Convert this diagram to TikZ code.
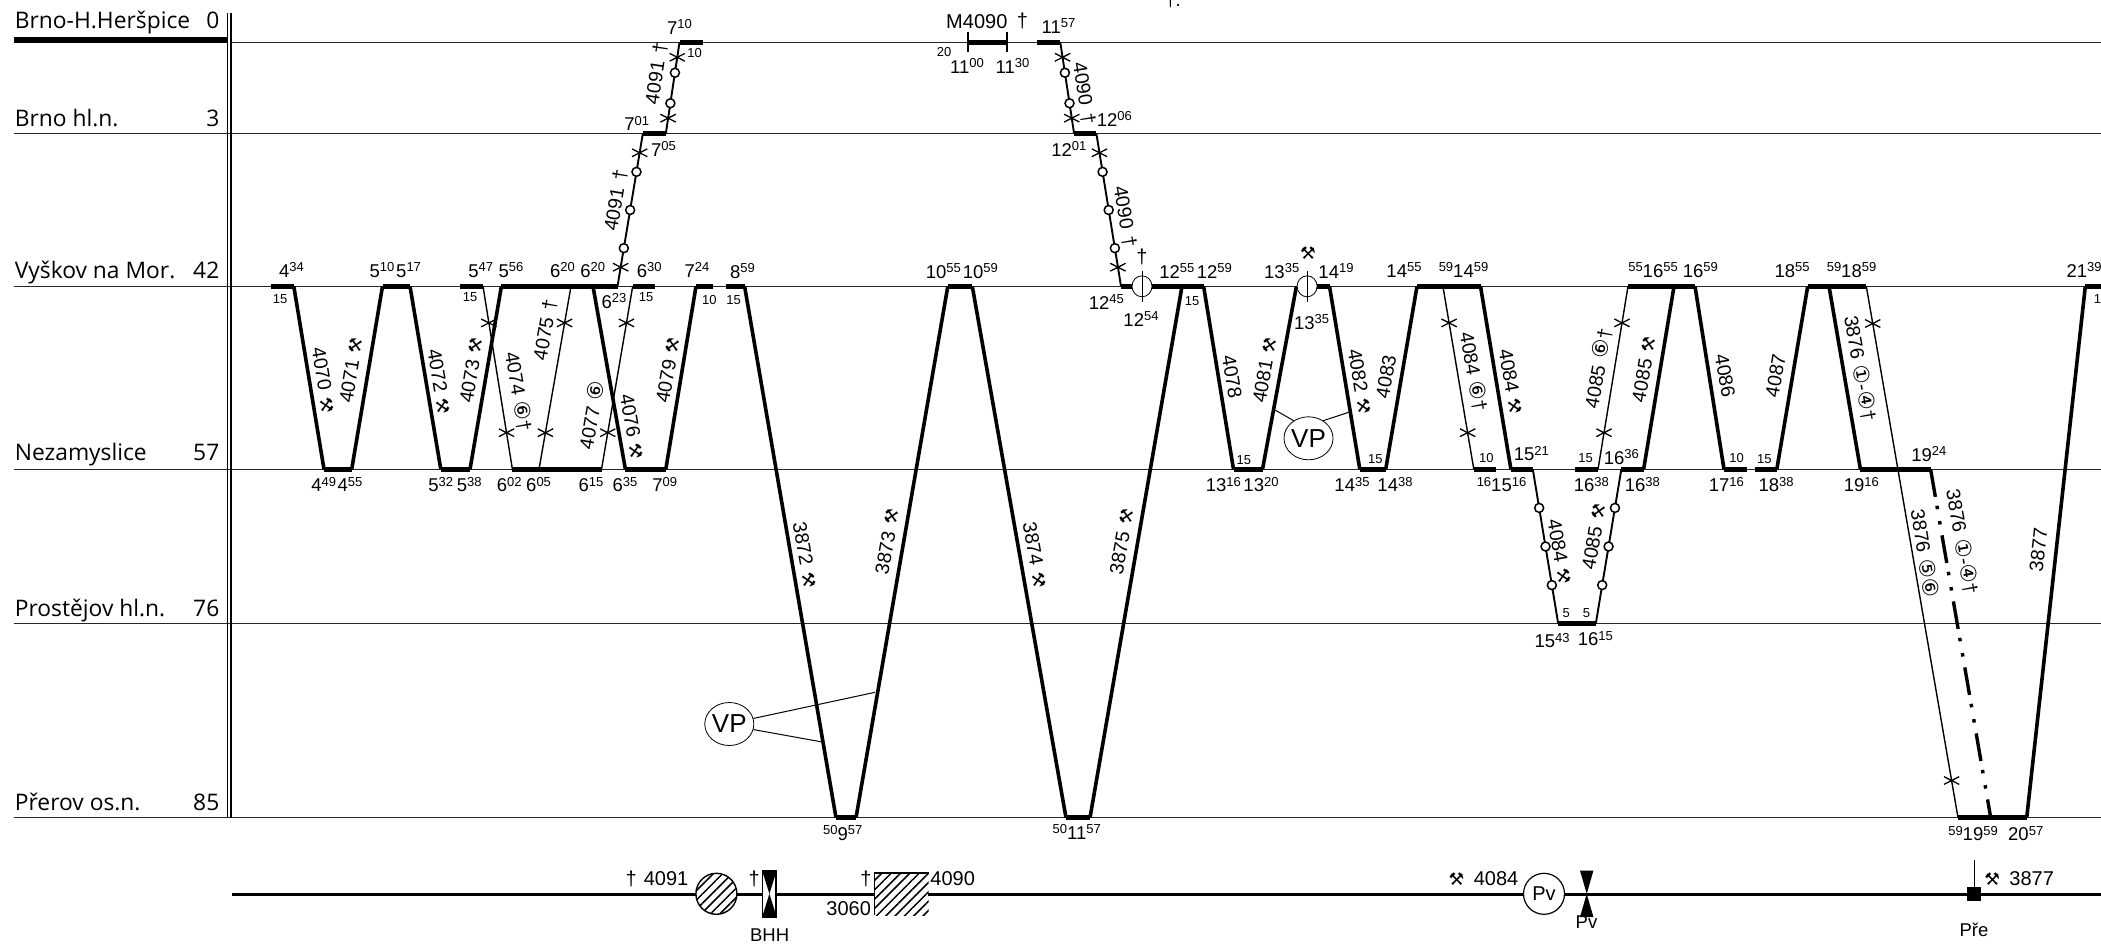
\documentclass[tikz,border=0pt]{standalone}
\usepackage{fontspec}
\setmainfont{Liberation Sans}
\newfontfamily\stfont{Open Sans}
\newfontfamily\symfont{DejaVu Sans}
\usetikzlibrary{shapes.geometric,shapes.misc,patterns.meta}
\newcommand{\hm}[2]{#1\raisebox{5.5pt}{\fontsize{13}{13}\selectfont #2}}
\newcommand{\hmp}[3]{\raisebox{5.5pt}{\fontsize{13}{13}\selectfont #1}#2\raisebox{5.5pt}{\fontsize{13}{13}\selectfont #3}}
\newcommand{\glyf}[1]{{\symfont\fontsize{21.5}{22}\selectfont #1}}
\newcommand{\hamr}{{\symfont\fontsize{17.5}{18}\selectfont ⚒}}
\begin{document}
\begin{tikzpicture}[x=1pt,y=-1pt,
                    row_line/.style={draw=black!85,line width=1.2pt},
                    stop_bar/.style={line width=4.5pt},
                    train_thick/.style={line width=3.6pt},
                    train_mid/.style={line width=1.9pt},
                    train_thin/.style={line width=1.4pt},
                    train_dash/.style={line width=3.4pt,dash pattern=on 28pt off 9pt on 3.5pt off 12pt on 3.5pt off 11pt},
                    st_lab/.style={anchor=base west,inner sep=0pt,font=\stfont\fontsize{22.8}{24}\selectfont},
                    km_lab/.style={anchor=base east,inner sep=0pt,font=\stfont\fontsize{22.8}{24}\selectfont},
                    tl/.style={anchor=base,inner sep=0pt,font=\fontsize{18.5}{20}\selectfont},
                    tb/.style={anchor=base,inner sep=0pt,font=\fontsize{20}{21}\selectfont},
                    sm/.style={inner sep=0pt,font=\fontsize{13}{14}\selectfont},
                    nr/.style={inner sep=0pt,font=\fontsize{19.5}{21}\selectfont},
                    tick_x/.style={cross out,draw,inner sep=0pt,minimum width=14pt,minimum height=6.5pt,line width=1.3pt},
                    stop_o/.style={circle,draw,fill=white,inner sep=0pt,minimum size=9pt,line width=1.5pt},
                    vp_oval/.style={ellipse,draw,inner sep=0pt,minimum width=49pt,minimum height=43pt,line width=.8pt,font=\fontsize{26}{27}\selectfont},
                    kr_oval/.style={ellipse,draw,fill=white,inner sep=0pt,minimum width=20pt,minimum height=21pt,line width=.8pt}]
\useasboundingbox (0,0) rectangle (2101,943);
% rows
\coordinate (r0a) at (231,42.3);   \coordinate (r0b) at (2101,42.3);
\coordinate (r1a) at (14,133.7);   \coordinate (r1b) at (2101,133.7);
\coordinate (r2a) at (14,286.3);   \coordinate (r2b) at (2101,286.3);
\coordinate (r3a) at (14,469.3);   \coordinate (r3b) at (2101,469.3);
\coordinate (r4a) at (14,623.7);   \coordinate (r4b) at (2101,623.7);
\coordinate (r5a) at (14,817.7);   \coordinate (r5b) at (2101,817.7);
\coordinate (h1) at (14,39.7);     \coordinate (h2) at (227,39.7);
\coordinate (d1) at (227.6,12.7);  \coordinate (d2) at (227.6,817.7);
\coordinate (d3) at (231,12.7);    \coordinate (d4) at (231,817.7);
\draw[row_line] (r0a) -- (r0b);
\draw[row_line] (r1a) -- (r1b);
\draw[row_line] (r2a) -- (r2b);
\draw[row_line] (r3a) -- (r3b);
\draw[row_line] (r4a) -- (r4b);
\draw[row_line] (r5a) -- (r5b);
\draw[line width=6pt] (h1) -- (h2);
\draw[line width=1.3pt] (d1) -- (d2);
\draw[line width=1.3pt] (d3) -- (d4);
\node[st_lab] (s0) at (14.7,28.3) {Brno-H.Heršpice};
\node[st_lab] (s1) at (14.7,126) {Brno hl.n.};
\node[st_lab] (s2) at (14.7,278) {Vyškov na Mor.};
\node[st_lab] (s3) at (14.7,460) {Nezamyslice};
\node[st_lab] (s4) at (14.7,616) {Prostějov hl.n.};
\node[st_lab] (s5) at (14.7,810) {Přerov os.n.};
\node[km_lab] (k0) at (219.5,28.3) {0};
\node[km_lab] (k1) at (219.5,126) {3};
\node[km_lab] (k2) at (219.5,278) {42};
\node[km_lab] (k3) at (219.5,460) {57};
\node[km_lab] (k4) at (219.5,616) {76};
\node[km_lab] (k5) at (219.5,810) {85};
% stops, Brno-H.
\coordinate (a1) at (679.5,42.3);  \coordinate (a2) at (702.5,42.3);
\coordinate (a3) at (967.9,42.3);  \coordinate (a4) at (1007.1,42.3);
\coordinate (a5) at (1037,42.3);   \coordinate (a6) at (1060.3,42.3);
% stops, Brno hl.n.
\coordinate (b1) at (642.8,133.7); \coordinate (b2) at (665.8,133.7);
\coordinate (b3) at (1074.1,133.7);\coordinate (b4) at (1096.4,133.7);
% stops, Vyskov
\coordinate (v1) at (270.9,286.3); \coordinate (v2) at (293.8,286.3);
\coordinate (v3) at (382.5,286.3); \coordinate (v4) at (410,286.3);
\coordinate (v5) at (460,286.3);   \coordinate (v6) at (483,286.3);
\coordinate (v7) at (501.4,286.3); \coordinate (v8) at (571,286.3);
\coordinate (v9) at (593,286.3);   \coordinate (v10) at (617.5,286.3);
\coordinate (v11) at (632.7,286.3);\coordinate (v12) at (655,286.3);
\coordinate (v13) at (696,286.3);  \coordinate (v14) at (712.6,286.3);
\coordinate (v15) at (725.9,286.3);\coordinate (v16) at (744.6,286.3);
\coordinate (v17) at (947.8,286.3);\coordinate (v18) at (972.3,286.3);
\coordinate (v19) at (1121,286.3); \coordinate (v20) at (1133,286.3);
\coordinate (v21) at (1151.8,286.3);\coordinate (v22) at (1182,286.3);
\coordinate (v23) at (1203.6,286.3);\coordinate (v24) at (1316,286.3);
\coordinate (v25) at (1329.5,286.3);\coordinate (v26) at (1417,286.3);
\coordinate (v27) at (1442.9,286.3);\coordinate (v28) at (1480.5,286.3);
\coordinate (v29) at (1628,286.3); \coordinate (v30) at (1674,286.3);
\coordinate (v31) at (1695,286.3); \coordinate (v32) at (1807.7,286.3);
\coordinate (v33) at (1829,286.3); \coordinate (v34) at (1866.3,286.3);
\coordinate (v35) at (2085.3,286.3);\coordinate (v36) at (2101,286.3);
\coordinate (v37) at (1296.4,286.3);
% stops, Nezamyslice
\coordinate (n1) at (324,469.3);   \coordinate (n2) at (351.7,469.3);
\coordinate (n3) at (440.8,469.3); \coordinate (n4) at (470,469.3);
\coordinate (n5) at (512.4,469.3); \coordinate (n6) at (539,469.3);
\coordinate (n7) at (601.5,469.3); \coordinate (n8) at (625.4,469.3);
\coordinate (n9) at (665.8,469.3); \coordinate (n10) at (1233.5,469.3);
\coordinate (n11) at (1262.5,469.3);\coordinate (n12) at (1359.8,469.3);
\coordinate (n13) at (1385.7,469.3);\coordinate (n14) at (1473.8,469.3);
\coordinate (n15) at (1496,469.3); \coordinate (n16) at (1510.9,469.3);
\coordinate (n17) at (1532.8,469.3);\coordinate (n18) at (1575.2,469.3);
\coordinate (n19) at (1598,469.3); \coordinate (n20) at (1621.3,469.3);
\coordinate (n21) at (1643.6,469.3);\coordinate (n22) at (1724,469.3);
\coordinate (n23) at (1747.3,469.3);\coordinate (n24) at (1754.5,469.3);
\coordinate (n25) at (1776.8,469.3);\coordinate (n26) at (1860.4,469.3);
\coordinate (n27) at (1930.6,469.3);
% stops, Prostejov and Prerov
\coordinate (p1) at (1558.2,623.7);\coordinate (p2) at (1595.8,623.7);
\coordinate (o1) at (836,817.7);   \coordinate (o2) at (856,817.7);
\coordinate (o3) at (1066,817.7);  \coordinate (o4) at (1090,817.7);
\coordinate (o5) at (1958,817.7);  \coordinate (o6) at (1990.7,817.7);
\coordinate (o7) at (2026.7,817.7);
\draw[stop_bar] (a1) -- (a2);
\draw[stop_bar] (a3) -- (a4);
\draw[stop_bar] (a5) -- (a6);
\draw[stop_bar] (b1) -- (b2);
\draw[stop_bar] (b3) -- (b4);
\draw[stop_bar] (v1) -- (v2);
\draw[stop_bar] (v3) -- (v4);
\draw[stop_bar] (v5) -- (v6);
\draw[stop_bar] (v7) -- (v10);
\draw[stop_bar] (v11) -- (v12);
\draw[stop_bar] (v13) -- (v14);
\draw[stop_bar] (v15) -- (v16);
\draw[stop_bar] (v17) -- (v18);
\draw[stop_bar] (v19) -- (v20);
\draw[stop_bar] (v21) -- (v23);
\draw[stop_bar] (v24) -- (v25);
\draw[stop_bar] (v26) -- (v28);
\draw[stop_bar] (v29) -- (v31);
\draw[stop_bar] (v32) -- (v34);
\draw[stop_bar] (v35) -- (v36);
\draw[stop_bar] (n1) -- (n2);
\draw[stop_bar] (n3) -- (n4);
\draw[stop_bar] (n5) -- (n7);
\draw[stop_bar] (n8) -- (n9);
\draw[stop_bar] (n10) -- (n11);
\draw[stop_bar] (n12) -- (n13);
\draw[stop_bar] (n14) -- (n15);
\draw[stop_bar] (n16) -- (n17);
\draw[stop_bar] (n18) -- (n19);
\draw[stop_bar] (n20) -- (n21);
\draw[stop_bar] (n22) -- (n23);
\draw[stop_bar] (n24) -- (n25);
\draw[stop_bar] (n26) -- (n27);
\draw[stop_bar] (p1) -- (p2);
\draw[stop_bar] (o1) -- (o2);
\draw[stop_bar] (o3) -- (o4);
\draw[stop_bar] (o5) -- (o7);
% trains
\draw[train_thick] (v2) -- (n1);
\draw[train_thick] (n2) -- (v3);
\draw[train_thick] (v4) -- (n3);
\draw[train_thick] (n4) -- (v7);
\draw[train_thin] (v6) -- node[tick_x,pos=.2] (x1) {} node[tick_x,pos=.8] (x2) {} (n5);
\draw[train_thin] (n6) -- node[tick_x,pos=.2] (x3) {} node[tick_x,pos=.8] (x4) {} (v8);
\draw[train_thick] (v9) -- (n8);
\draw[train_thin] (n7) -- node[tick_x,pos=.2] (x5) {} node[tick_x,pos=.8] (x6) {} (v11);
\draw[train_thick] (n9) -- (v13);
\draw[train_thick] (v16) -- (o1);
\draw[train_thick] (o2) -- (v17);
\draw[train_thick] (v18) -- (o3);
\draw[train_thick] (o4) -- (v22);
\draw[train_thick] (v23) -- (n10);
\draw[train_thick] (n11) -- (v37);
\draw[train_thick] (v25) -- (n12);
\draw[train_thick] (n13) -- (v26);
\draw[train_thick] (v28) -- (n16);
\draw[train_thin] (v27) -- node[tick_x,pos=.2] (x7) {} node[tick_x,pos=.8] (x8) {} (n14);
\draw[train_thin] (n19) -- node[tick_x,pos=.2] (x9) {} node[tick_x,pos=.8] (x10) {} (v29);
\draw[train_thick] (n21) -- (v30);
\draw[train_thick] (v31) -- (n22);
\draw[train_thick] (n25) -- (v32);
\draw[train_thick] (v33) -- (n26);
\draw[train_thin] (v34) -- node[tick_x,pos=.07] (x11) {} node[tick_x,pos=.93] (x12) {} (o5);
\draw[train_dash] (n27) -- (o6);
\draw[train_thick] (o7) -- (v35);
\draw[train_mid] (a1) -- node[tick_x,pos=.164] (x13) {} node[stop_o,pos=.333] (c1) {} node[stop_o,pos=.667] (c2) {} node[tick_x,pos=.83] (x14) {} (b2);
\draw[train_mid] (b1) -- node[tick_x,pos=.125] (x15) {} node[stop_o,pos=.25] (c3) {} node[stop_o,pos=.5] (c4) {} node[stop_o,pos=.75] (c5) {} node[tick_x,pos=.875] (x16) {} (v10);
\draw[train_mid] (a6) -- node[tick_x,pos=.164] (x17) {} node[stop_o,pos=.333] (c6) {} node[stop_o,pos=.667] (c7) {} node[tick_x,pos=.83] (x18) {} (b3);
\draw[train_mid] (b4) -- node[tick_x,pos=.125] (x19) {} node[stop_o,pos=.25] (c8) {} node[stop_o,pos=.5] (c9) {} node[stop_o,pos=.75] (c10) {} node[tick_x,pos=.875] (x20) {} (v19);
\draw[train_mid] (n17) -- node[stop_o,pos=.25] (c11) {} node[stop_o,pos=.5] (c12) {} node[stop_o,pos=.75] (c13) {} (p1);
\draw[train_mid] (p2) -- node[stop_o,pos=.25] (c14) {} node[stop_o,pos=.5] (c15) {} node[stop_o,pos=.75] (c16) {} (n20);
% crossing marks at Vyskov
\node[kr_oval] (kr1) at (1142,286.3) {};
\node[kr_oval] (kr2) at (1307.1,286.3) {};
\coordinate (kr1t) at (1142,270.7); \coordinate (kr1b) at (1142,302.3);
\coordinate (kr2t) at (1307.1,270.7); \coordinate (kr2b) at (1307.1,302.3);
\draw[line width=.8pt] (kr1t) -- (kr1b);
\draw[line width=.8pt] (kr2t) -- (kr2b);
% M4090 ticks
\coordinate (m1) at (967.9,32.3); \coordinate (m2) at (967.9,52.3);
\coordinate (m3) at (1007.1,32.3); \coordinate (m4) at (1007.1,52.3);
\draw[train_thin] (m1) -- (m2);
\draw[train_thin] (m3) -- (m4);
% train numbers
\node[nr,rotate=-80.7] (t1) at (323.7,380) {4070\hspace{7pt}\hamr};
\node[nr,rotate=80.5] (t2) at (351.2,370) {4071\hspace{7pt}\hamr};
\node[nr,rotate=-80.5] (t3) at (439.4,381.7) {4072\hspace{7pt}\hamr};
\node[nr,rotate=80.5] (t4) at (471.5,370) {4073\hspace{7pt}\hamr};
\node[nr,rotate=-80.5] (t5) at (518.8,391.7) {4074\hspace{7pt}\glyf{⑥}†};
\node[nr,rotate=80] (t6) at (545.4,330) {4075\hspace{7pt}†};
\node[nr,rotate=80] (t7) at (591,415) {4077\hspace{7pt}\glyf{⑥}};
\node[nr,rotate=-80] (t8) at (632.2,426.7) {4076\hspace{7pt}\hamr};
\node[nr,rotate=80] (t9) at (668,370) {4079\hspace{7pt}\hamr};
\node[nr,rotate=81.5] (t10) at (656.6,73.3) {4091\hspace{8pt}†};
\node[nr,rotate=80.6] (t11) at (616,200) {4091\hspace{8pt}†};
\node[nr,rotate=-81] (t12) at (1084,93.3) {4090\hspace{8pt}†};
\node[nr,rotate=-80.6] (t13) at (1125,216.7) {4090\hspace{8pt}†};
\node[nr,rotate=-80] (t14) at (805,555) {3872\hspace{7pt}\hamr};
\node[nr,rotate=80] (t15) at (887.3,541.7) {3873\hspace{7pt}\hamr};
\node[nr,rotate=-80] (t16) at (1035,555) {3874\hspace{7pt}\hamr};
\node[nr,rotate=80] (t17) at (1121.7,541.7) {3875\hspace{7pt}\hamr};
\node[nr,rotate=-80.5] (t18) at (1232,376.7) {4078};
\node[nr,rotate=80] (t19) at (1264.7,370) {4081\hspace{7pt}\hamr};
\node[nr,rotate=-80.5] (t20) at (1359.8,381.7) {4082\hspace{7pt}\hamr};
\node[nr,rotate=80] (t21) at (1386,376.7) {4083};
\node[nr,rotate=-80] (t22) at (1473.8,371.7) {4084\hspace{7pt}\glyf{⑥}†};
\node[nr,rotate=-80] (t23) at (1510.9,381.7) {4084\hspace{7pt}\hamr};
\node[nr,rotate=80] (t24) at (1598,368.3) {4085\hspace{7pt}\glyf{⑥}†};
\node[nr,rotate=80] (t25) at (1644,369.3) {4085\hspace{7pt}\hamr};
\node[nr,rotate=-80] (t26) at (1725,375.7) {4086};
\node[nr,rotate=80] (t27) at (1775.5,375.7) {4087};
\node[nr,rotate=-80] (t28) at (1860.4,368.3) {3876\hspace{7pt}\glyf{①}-\glyf{④}†};
\node[nr,rotate=-80] (t29) at (1962.4,541.7) {3876\hspace{7pt}\glyf{①}-\glyf{④}†};
\node[nr,rotate=-81] (t30) at (1925.3,553.3) {3876\hspace{7pt}\glyf{⑤}\glyf{⑥}};
\node[nr,rotate=83.7] (t31) at (2038.4,550) {3877};
\node[nr,rotate=-80] (t32) at (1559.6,551.7) {4084\hspace{7pt}\hamr};
\node[nr,rotate=80] (t33) at (1594,536.7) {4085\hspace{7pt}\hamr};
% times, Brno-H. and Brno hl.n.
\node[tl] (u1) at (679.5,34) {\hm{7}{10}};
\node[sm] (u2) at (694.7,53.3) {10};
\node[tl] (u3) at (636.8,130.7) {\hm{7}{01}};
\node[tl] (u4) at (663.5,156) {\hm{7}{05}};
\node[tb] (u5) at (976.8,28.3) {M4090};
\node[tb] (u6) at (1022.3,27) {†};
\node[sm] (u7) at (944.2,52.3) {20};
\node[tl] (u8) at (967,73.3) {\hm{11}{00}};
\node[tl] (u9) at (1012.5,73.3) {\hm{11}{30}};
\node[tl] (u10) at (1058.5,33.3) {\hm{11}{57}};
\node[tl] (u11) at (1114.3,126) {\hm{12}{06}};
\node[tl] (u12) at (1068.8,156) {\hm{12}{01}};
\node[tl] (u13) at (1173,6) {†.};
% times, Vyskov
\node[tl] (w1) at (291.5,277.3) {\hm{4}{34}};
\node[tl] (w2) at (382,277.3) {\hm{5}{10}};
\node[tl] (w3) at (408.6,277.3) {\hm{5}{17}};
\node[tl] (w4) at (480.7,277.3) {\hm{5}{47}};
\node[tl] (w5) at (511,277.3) {\hm{5}{56}};
\node[tl] (w6) at (562.4,277.3) {\hm{6}{20}};
\node[tl] (w7) at (592.7,277.3) {\hm{6}{20}};
\node[tl] (w8) at (649.2,277.3) {\hm{6}{30}};
\node[tl] (w9) at (697,277.3) {\hm{7}{24}};
\node[tl] (w10) at (613.9,308) {\hm{6}{23}};
\node[tl] (w11) at (742.4,278) {\hm{8}{59}};
\node[tl] (w12) at (943.3,278) {\hm{10}{55}};
\node[tl] (w13) at (980.4,278) {\hm{10}{59}};
\node[tl] (w14) at (1106.3,309.3) {\hm{12}{45}};
\node[tb] (w15) at (1142,263) {†};
\node[tl] (w16) at (1141,326) {\hm{12}{54}};
\node[tl] (w17) at (1176.8,278) {\hm{12}{55}};
\node[tl] (w18) at (1214.3,278) {\hm{12}{59}};
\node[tl] (w19) at (1281.7,278) {\hm{13}{35}};
\node[tl] (w20) at (1336,278) {\hm{14}{19}};
\node[tl] (w21) at (1311.6,329.3) {\hm{13}{35}};
\node[inner sep=0pt] (w22) at (1308,253.3) {\hamr};
\node[tl] (w23) at (1404,277.3) {\hm{14}{55}};
\node[tl] (w24) at (1463.5,277.3) {\hmp{59}{14}{59}};
\node[tl] (w25) at (1653,277.3) {\hmp{55}{16}{55}};
\node[tl] (w26) at (1700.4,277.3) {\hm{16}{59}};
\node[tl] (w27) at (1792,277.3) {\hm{18}{55}};
\node[tl] (w28) at (1851.5,277.3) {\hmp{59}{18}{59}};
\node[tl] (w29) at (2084,277.3) {\hm{21}{39}};
\node[sm] (y1) at (280,299.3) {15};
\node[sm] (y2) at (470,296.7) {15};
\node[sm] (y3) at (646,296.7) {15};
\node[sm] (y4) at (709.4,300) {10};
\node[sm] (y5) at (733.5,300) {15};
\node[sm] (y6) at (1192,300.7) {15};
\node[sm] (y7) at (2101,299.3) {15};
% times, Nezamyslice
\node[tl] (z1) at (323.7,491.7) {\hm{4}{49}};
\node[tl] (z2) at (349.9,491.7) {\hm{4}{55}};
\node[tl] (z3) at (440.8,491.7) {\hm{5}{32}};
\node[tl] (z4) at (469.2,491.7) {\hm{5}{38}};
\node[tl] (z5) at (509.2,491.7) {\hm{6}{02}};
\node[tl] (z6) at (538.6,491.7) {\hm{6}{05}};
\node[tl] (z7) at (590.9,491.7) {\hm{6}{15}};
\node[tl] (z8) at (624.9,491.7) {\hm{6}{35}};
\node[tl] (z9) at (664.8,491.7) {\hm{7}{09}};
\node[tl] (z10) at (1223.4,491.7) {\hm{13}{16}};
\node[tl] (z11) at (1261,491.7) {\hm{13}{20}};
\node[tl] (z12) at (1352,491.7) {\hm{14}{35}};
\node[tl] (z13) at (1395,491.7) {\hm{14}{38}};
\node[tl] (z14) at (1501.5,491.7) {\hmp{16}{15}{16}};
\node[tl] (z15) at (1591.3,491.7) {\hm{16}{38}};
\node[tl] (z16) at (1642.3,491.7) {\hm{16}{38}};
\node[tl] (z17) at (1726.3,491.7) {\hm{17}{16}};
\node[tl] (z18) at (1776,491.7) {\hm{18}{38}};
\node[tl] (z19) at (1861.3,491.7) {\hm{19}{16}};
\node[tl] (z20) at (1531.4,460.7) {\hm{15}{21}};
\node[tl] (z21) at (1621.3,464) {\hm{16}{36}};
\node[tl] (z22) at (1928.8,461) {\hm{19}{24}};
\node[sm] (y8) at (1243.8,460) {15};
\node[sm] (y9) at (1375.4,459.3) {15};
\node[sm] (y10) at (1486.3,458.3) {10};
\node[sm] (y11) at (1585.5,458.3) {15};
\node[sm] (y12) at (1736.6,458.3) {10};
\node[sm] (y13) at (1764.3,459.3) {15};
% times, Prostejov and Prerov
\node[tl] (q1) at (1552,647.7) {\hm{15}{43}};
\node[tl] (q2) at (1595.4,645.7) {\hm{16}{15}};
\node[sm] (y14) at (1566.3,612.7) {5};
\node[sm] (y15) at (1586.4,612.7) {5};
\node[tl] (q3) at (842.7,840) {\hmp{50}{9}{57}};
\node[tl] (q4) at (1076.7,839.3) {\hmp{50}{11}{57}};
\node[tl] (q5) at (1973,840.7) {\hmp{59}{19}{59}};
\node[tl] (q6) at (2025.7,840.7) {\hm{20}{57}};
% VP
\node[vp_oval] (vp1) at (729.3,724) {VP};
\coordinate (e1) at (875,692.3);
\coordinate (e2) at (820.7,741.7);
\draw[line width=1pt] (vp1.13) -- (e1);
\draw[line width=1pt] (vp1.-13) -- (e2);
\node[vp_oval] (vp2) at (1308.5,438.3) {VP};
\coordinate (e3) at (1275,410);
\coordinate (e4) at (1348.6,412.3);
\draw[line width=1pt] (vp2.130) -- (e3);
\draw[line width=1pt] (vp2.50) -- (e4);
% track
\coordinate (l1) at (231.9,894.3); \coordinate (l2) at (2101,894.3);
\draw[line width=3.2pt] (l1) -- (l2);
\node[tb] (f1) at (657,885) {†\hspace{7pt}4091};
\node[circle,draw,fill=white,inner sep=0pt,minimum size=41pt,line width=1.4pt] (g1) at (716.4,893.8) {};
\fill[pattern={Lines[angle=45,distance=6.6pt,line width=1.5pt]}] (g1.center) circle (20pt);
\node[tb] (f2) at (754.3,885) {†};
\node[rectangle,draw,fill=white,inner sep=0pt,minimum width=13.5pt,minimum height=46pt,line width=1.4pt] (g2) at (769.4,893.8) {};
\fill (g2.north west) -- (g2.north east) -- (g2.center) -- cycle;
\fill (g2.south west) -- (g2.south east) -- (g2.center) -- cycle;
\node[tl] (f3) at (769.6,941.7) {BHH};
\node[tb] (f4) at (866,885) {†};
\node[rectangle,fill=white,inner sep=0pt,minimum width=54pt,minimum height=42pt] (g3) at (901.3,894.2) {};
\fill[pattern={Lines[angle=45,distance=6.6pt,line width=1.5pt]}] (g3.south west) rectangle (g3.north east);
\draw[line width=1.2pt] (g3.south west) -- (g3.north west) -- (g3.north east);
\node[tb] (f5) at (952.7,885) {4090};
\node[tb] (f6) at (848.7,915) {3060};
\node[tb] (f7) at (1456.5,885) {\hamr};
\node[tb] (f8) at (1496,885) {4084};
\node[circle,draw,fill=white,inner sep=0pt,minimum size=41pt,line width=1.2pt,font=\fontsize{20}{21}\selectfont] (g4) at (1544,893.8) {Pv};
\node[rectangle,inner sep=0pt,minimum width=13pt,minimum height=46pt] (g5) at (1586.7,893.8) {};
\fill (g5.north west) -- (g5.north east) -- (g5.center) -- cycle;
\fill (g5.south west) -- (g5.south east) -- (g5.center) -- cycle;
\node[tl] (f9) at (1586.5,928) {Pv};
\node[rectangle,fill=black,inner sep=0pt,minimum size=14pt] (g6) at (1974.3,893.8) {};
\coordinate (g6t) at (1974.3,860);
\draw[train_thin] (g6t) -- (g6.north);
\node[tb] (f10) at (1992.3,885) {\hamr};
\node[tb] (f11) at (2031.7,885) {3877};
\node[tl] (f12) at (1974,936.7) {Pře};
\end{tikzpicture}
\end{document}
